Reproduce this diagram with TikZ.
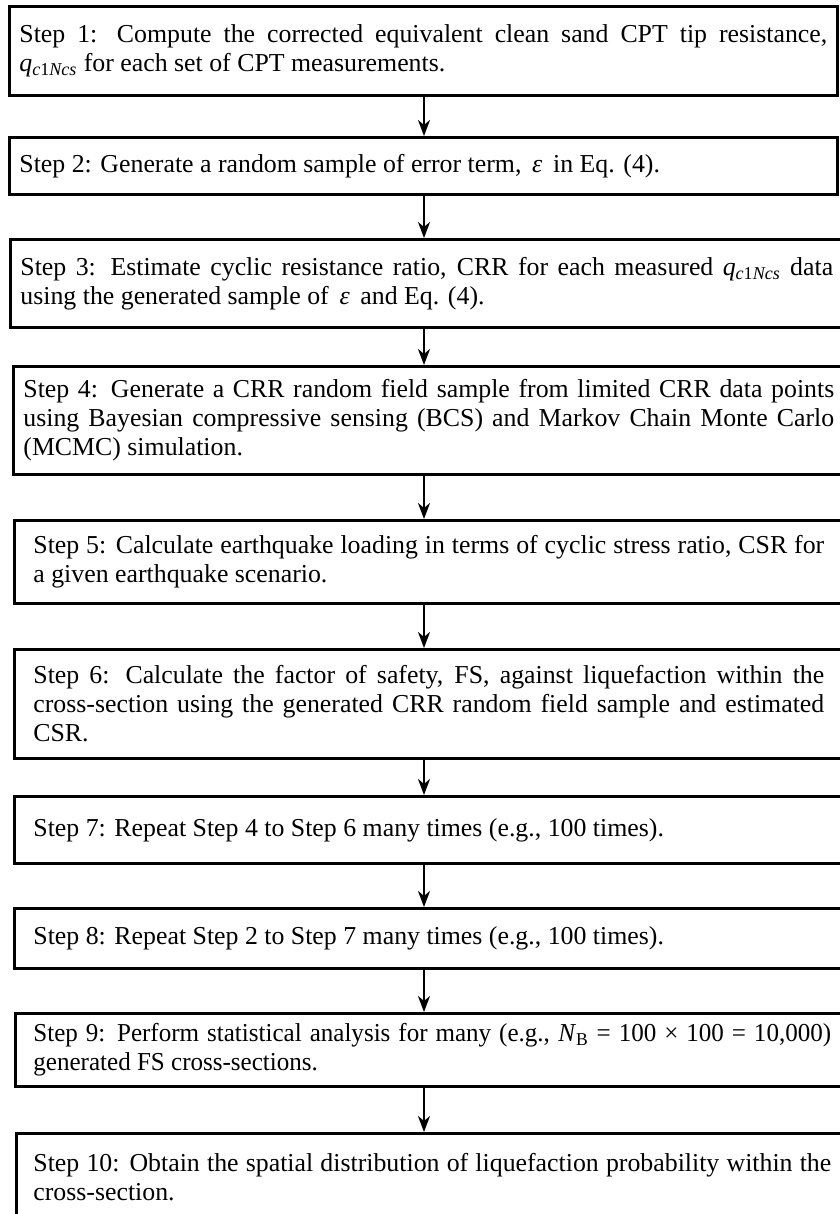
\documentclass[tikz,border=0pt]{standalone}
\usepackage{fontspec}
\setmainfont{Liberation Serif}
\newfontfamily\narrowserif[FakeStretch=0.97]{Liberation Serif}
\usepackage{tikz}
\usetikzlibrary{arrows.meta}
\hyphenpenalty=10000
\exhyphenpenalty=10000

\tikzset{
  stepbox/.style={draw, line width=1.6pt, anchor=north west, align=justify,
    inner xsep=0.2cm, inner ysep=0pt, font=\fontsize{14.7}{16.5}\selectfont},
  widebox/.style={stepbox, inner xsep=0.38cm},
  flow/.style={-{Stealth[length=0.32cm,width=0.24cm,inset=0.1cm]}, line width=1.3pt}
}
\newcommand{\qcs}{\textit{q}\textsubscript{\textit{c}1\textit{Ncs}}}
\newcommand{\epsi}{\,\textit{ε}\,}

\begin{document}
\begin{tikzpicture}[x=0.02cm, y=-0.02cm]
\useasboundingbox (0,0) rectangle (839,1214);
\coordinate (axis) at (424,0);

% Steps 1-4
\node[stepbox, text width=16.16cm, minimum height=1.78cm] (s1) at (8,5)
  {Step 1: Compute the corrected equivalent clean sand CPT tip resistance,\linebreak
   \qcs{} for each set of CPT measurements.};
\node[stepbox, text width=16.16cm, minimum height=1.14cm] (s2) at (8,136)
  {Step 2: Generate a random sample of error term, \epsi{} in Eq. (4).};
\node[stepbox, text width=16.26cm, minimum height=1.76cm] (s3) at (9,238)
  {Step 3: Estimate cyclic resistance ratio, CRR for each measured \qcs{} data\linebreak
   using the generated sample of \epsi{} and Eq. (4).};
\node[stepbox, text width=16.22cm, minimum height=2.16cm] (s4) at (12,365)
  {Step 4: Generate a CRR random field sample from limited CRR data points\linebreak
   using Bayesian compressive sensing (BCS) and Markov Chain Monte Carlo\linebreak
   (MCMC) simulation.};

% Steps 5-10
\node[widebox, text width=15.82cm, minimum height=1.66cm] (s5) at (13,519)
  {Step 5: Calculate earthquake loading in terms of cyclic stress ratio, CSR for\linebreak
   a given earthquake scenario.};
\node[widebox, text width=15.82cm, minimum height=2.18cm] (s6) at (13,648)
  {Step 6: Calculate the factor of safety, FS, against liquefaction within the\linebreak
   cross-section using the generated CRR random field sample and estimated\linebreak
   CSR.};
\node[widebox, text width=15.82cm, minimum height=1.34cm] (s7) at (13,795)
  {Step 7: Repeat Step 4 to Step 6 many times (e.g., 100 times).};
\node[widebox, text width=15.82cm, minimum height=1.2cm] (s8) at (13,907)
  {Step 8: Repeat Step 2 to Step 7 many times (e.g., 100 times).};
\node[widebox, text width=15.96cm, minimum height=1.46cm, inner xsep=0.36cm,
  font=\narrowserif\fontsize{14.7}{16.5}\selectfont] (s9) at (14,1012)
  {Step 9: Perform statistical analysis for many (e.g., \textit{N}\textsubscript{B} = 100 × 100 = 10,000)\linebreak
   generated FS cross-sections.};
\node[widebox, text width=15.96cm, minimum height=1.76cm, inner xsep=0.34cm] (s10) at (15,1132)
  {Step 10: Obtain the spatial distribution of liquefaction probability within the\linebreak
   cross-section.};

% Arrows
\draw[flow] (s1.south -| axis) -- (s2.north -| axis);
\draw[flow] (s2.south -| axis) -- (s3.north -| axis);
\draw[flow] (s3.south -| axis) -- (s4.north -| axis);
\draw[flow] (s4.south -| axis) -- (s5.north -| axis);
\draw[flow] (s5.south -| axis) -- (s6.north -| axis);
\draw[flow] (s6.south -| axis) -- (s7.north -| axis);
\draw[flow] (s7.south -| axis) -- (s8.north -| axis);
\draw[flow] (s8.south -| axis) -- (s9.north -| axis);
\draw[flow] (s9.south -| axis) -- (s10.north -| axis);
\end{tikzpicture}
\end{document}
